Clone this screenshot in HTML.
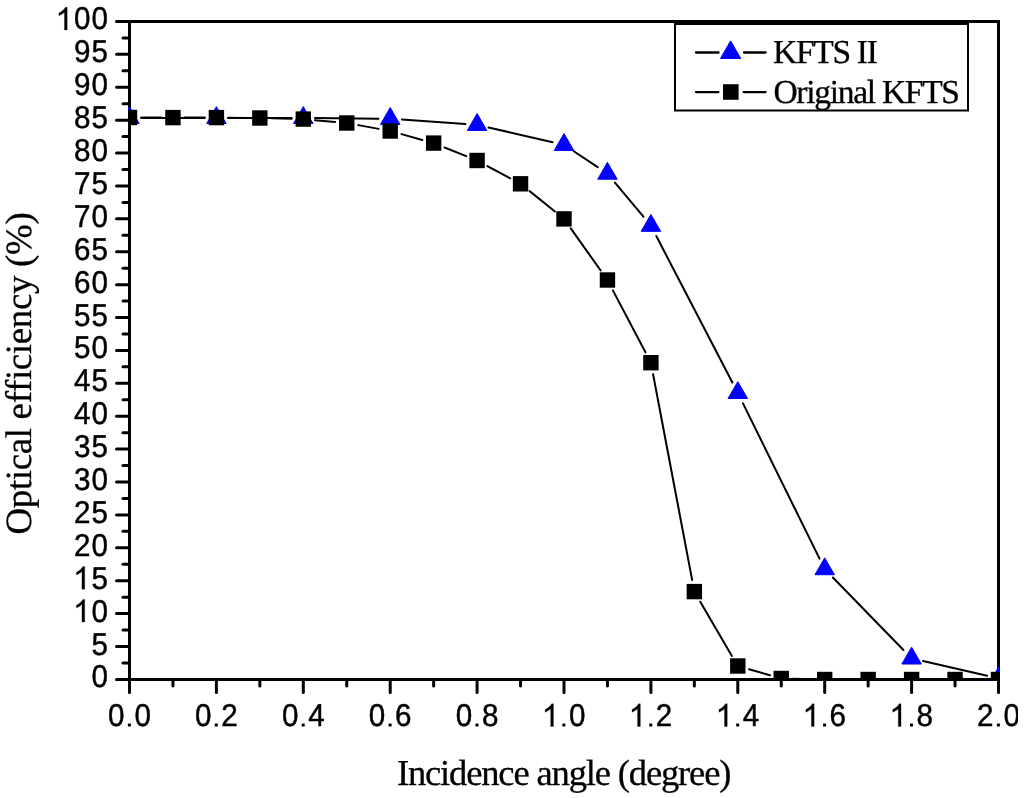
<!DOCTYPE html>
<html><head><meta charset="utf-8"><style>
html,body{margin:0;padding:0;background:#fff;width:1024px;height:798px;overflow:hidden}
svg{display:block;will-change:transform;text-rendering:geometricPrecision}
.sans{font-family:"Liberation Sans",sans-serif;font-size:31.5px;fill:#000;stroke:#000;stroke-width:0.45px}
.serif{font-family:"Liberation Serif",serif;fill:#000;stroke:#000;stroke-width:0.3px}
</style></head><body>
<svg width="1024" height="798" viewBox="0 0 1024 798">
<rect width="1024" height="798" fill="#fff"/>
<g>
<defs><clipPath id="lc"><rect x="0" y="0" width="1018" height="798"/></clipPath><clipPath id="pc"><rect x="128" y="20" width="872" height="661"/></clipPath></defs>
<g stroke="#000" stroke-width="3" stroke-linecap="round" fill="none">
<line x1="116.50" y1="679.40" x2="129.50" y2="679.40"/>
<line x1="123.00" y1="662.95" x2="129.50" y2="662.95"/>
<line x1="116.50" y1="646.50" x2="129.50" y2="646.50"/>
<line x1="123.00" y1="630.05" x2="129.50" y2="630.05"/>
<line x1="116.50" y1="613.61" x2="129.50" y2="613.61"/>
<line x1="123.00" y1="597.16" x2="129.50" y2="597.16"/>
<line x1="116.50" y1="580.71" x2="129.50" y2="580.71"/>
<line x1="123.00" y1="564.26" x2="129.50" y2="564.26"/>
<line x1="116.50" y1="547.81" x2="129.50" y2="547.81"/>
<line x1="123.00" y1="531.36" x2="129.50" y2="531.36"/>
<line x1="116.50" y1="514.91" x2="129.50" y2="514.91"/>
<line x1="123.00" y1="498.46" x2="129.50" y2="498.46"/>
<line x1="116.50" y1="482.01" x2="129.50" y2="482.01"/>
<line x1="123.00" y1="465.57" x2="129.50" y2="465.57"/>
<line x1="116.50" y1="449.12" x2="129.50" y2="449.12"/>
<line x1="123.00" y1="432.67" x2="129.50" y2="432.67"/>
<line x1="116.50" y1="416.22" x2="129.50" y2="416.22"/>
<line x1="123.00" y1="399.77" x2="129.50" y2="399.77"/>
<line x1="116.50" y1="383.32" x2="129.50" y2="383.32"/>
<line x1="123.00" y1="366.87" x2="129.50" y2="366.87"/>
<line x1="116.50" y1="350.43" x2="129.50" y2="350.43"/>
<line x1="123.00" y1="333.98" x2="129.50" y2="333.98"/>
<line x1="116.50" y1="317.53" x2="129.50" y2="317.53"/>
<line x1="123.00" y1="301.08" x2="129.50" y2="301.08"/>
<line x1="116.50" y1="284.63" x2="129.50" y2="284.63"/>
<line x1="123.00" y1="268.18" x2="129.50" y2="268.18"/>
<line x1="116.50" y1="251.73" x2="129.50" y2="251.73"/>
<line x1="123.00" y1="235.28" x2="129.50" y2="235.28"/>
<line x1="116.50" y1="218.84" x2="129.50" y2="218.84"/>
<line x1="123.00" y1="202.39" x2="129.50" y2="202.39"/>
<line x1="116.50" y1="185.94" x2="129.50" y2="185.94"/>
<line x1="123.00" y1="169.49" x2="129.50" y2="169.49"/>
<line x1="116.50" y1="153.04" x2="129.50" y2="153.04"/>
<line x1="123.00" y1="136.59" x2="129.50" y2="136.59"/>
<line x1="116.50" y1="120.14" x2="129.50" y2="120.14"/>
<line x1="123.00" y1="103.69" x2="129.50" y2="103.69"/>
<line x1="116.50" y1="87.25" x2="129.50" y2="87.25"/>
<line x1="123.00" y1="70.80" x2="129.50" y2="70.80"/>
<line x1="116.50" y1="54.35" x2="129.50" y2="54.35"/>
<line x1="123.00" y1="37.90" x2="129.50" y2="37.90"/>
<line x1="116.50" y1="21.45" x2="129.50" y2="21.45"/>
<line x1="129.50" y1="679.40" x2="129.50" y2="692.40"/>
<line x1="172.95" y1="679.40" x2="172.95" y2="685.90"/>
<line x1="216.40" y1="679.40" x2="216.40" y2="692.40"/>
<line x1="259.85" y1="679.40" x2="259.85" y2="685.90"/>
<line x1="303.30" y1="679.40" x2="303.30" y2="692.40"/>
<line x1="346.75" y1="679.40" x2="346.75" y2="685.90"/>
<line x1="390.20" y1="679.40" x2="390.20" y2="692.40"/>
<line x1="433.65" y1="679.40" x2="433.65" y2="685.90"/>
<line x1="477.10" y1="679.40" x2="477.10" y2="692.40"/>
<line x1="520.55" y1="679.40" x2="520.55" y2="685.90"/>
<line x1="564.00" y1="679.40" x2="564.00" y2="692.40"/>
<line x1="607.45" y1="679.40" x2="607.45" y2="685.90"/>
<line x1="650.90" y1="679.40" x2="650.90" y2="692.40"/>
<line x1="694.35" y1="679.40" x2="694.35" y2="685.90"/>
<line x1="737.80" y1="679.40" x2="737.80" y2="692.40"/>
<line x1="781.25" y1="679.40" x2="781.25" y2="685.90"/>
<line x1="824.70" y1="679.40" x2="824.70" y2="692.40"/>
<line x1="868.15" y1="679.40" x2="868.15" y2="685.90"/>
<line x1="911.60" y1="679.40" x2="911.60" y2="692.40"/>
<line x1="955.05" y1="679.40" x2="955.05" y2="685.90"/>
<line x1="998.50" y1="679.40" x2="998.50" y2="692.40"/>
</g>
<g stroke="#000" stroke-width="3" fill="none" stroke-linecap="square">
<path d="M129.5 679.40V21.45H998.5V679.40H129.5Z"/>
</g>
<g clip-path="url(#pc)">
<g stroke="#000" stroke-width="2" fill="none" stroke-linecap="round">
<line x1="141.20" y1="117.90" x2="204.70" y2="117.90"/>
<line x1="228.10" y1="117.90" x2="291.60" y2="117.90"/>
<line x1="315.00" y1="118.02" x2="378.50" y2="118.68"/>
<line x1="401.87" y1="119.61" x2="465.43" y2="123.99"/>
<line x1="488.50" y1="127.42" x2="552.60" y2="142.18"/>
<line x1="573.75" y1="151.26" x2="597.70" y2="167.14"/>
<line x1="614.94" y1="182.59" x2="643.41" y2="216.71"/>
<line x1="656.30" y1="236.08" x2="732.40" y2="382.52"/>
<line x1="742.98" y1="403.39" x2="819.52" y2="558.61"/>
<line x1="832.86" y1="577.49" x2="903.44" y2="650.01"/>
<line x1="923.00" y1="661.02" x2="987.10" y2="675.78"/>
<line x1="141.20" y1="117.53" x2="161.25" y2="117.57"/>
<line x1="184.65" y1="117.60" x2="204.70" y2="117.60"/>
<line x1="228.10" y1="117.71" x2="248.15" y2="117.89"/>
<line x1="271.55" y1="118.30" x2="291.60" y2="118.80"/>
<line x1="314.95" y1="120.15" x2="335.10" y2="121.95"/>
<line x1="358.26" y1="125.12" x2="378.69" y2="128.88"/>
<line x1="401.47" y1="134.14" x2="422.38" y2="139.96"/>
<line x1="444.51" y1="147.45" x2="466.24" y2="156.15"/>
<line x1="487.41" y1="166.03" x2="510.24" y2="178.27"/>
<line x1="529.65" y1="191.15" x2="554.90" y2="211.55"/>
<line x1="570.78" y1="228.43" x2="600.67" y2="270.47"/>
<line x1="612.89" y1="290.36" x2="645.46" y2="352.34"/>
<line x1="653.08" y1="374.19" x2="692.17" y2="580.11"/>
<line x1="700.25" y1="601.70" x2="731.90" y2="655.90"/>
<line x1="749.04" y1="669.23" x2="770.01" y2="675.27"/>
<line x1="792.95" y1="678.77" x2="813.00" y2="679.23"/>
<line x1="836.40" y1="679.50" x2="856.45" y2="679.50"/>
<line x1="879.85" y1="679.50" x2="899.90" y2="679.50"/>
<line x1="923.30" y1="679.50" x2="943.35" y2="679.50"/>
<line x1="966.75" y1="679.50" x2="986.80" y2="679.50"/>
</g>
<g fill="#0000ff" stroke="#0000ff" stroke-width="1" stroke-linejoin="round">
<path d="M129.50 106.64L139.25 123.53L119.75 123.53Z"/>
<path d="M216.40 106.64L226.15 123.53L206.65 123.53Z"/>
<path d="M303.30 106.64L313.05 123.53L293.55 123.53Z"/>
<path d="M390.20 107.54L399.95 124.43L380.45 124.43Z"/>
<path d="M477.10 113.54L486.85 130.43L467.35 130.43Z"/>
<path d="M564.00 133.54L573.75 150.43L554.25 150.43Z"/>
<path d="M607.45 162.34L617.20 179.23L597.70 179.23Z"/>
<path d="M650.90 214.44L660.65 231.33L641.15 231.33Z"/>
<path d="M737.80 381.64L747.55 398.53L728.05 398.53Z"/>
<path d="M824.70 557.84L834.45 574.73L814.95 574.73Z"/>
<path d="M911.60 647.14L921.35 664.03L901.85 664.03Z"/>
<path d="M998.50 667.14L1008.25 684.03L988.75 684.03Z"/>
</g>
<g fill="#000">
<rect x="121.80" y="109.80" width="15.4" height="15.4"/>
<rect x="165.25" y="109.90" width="15.4" height="15.4"/>
<rect x="208.70" y="109.90" width="15.4" height="15.4"/>
<rect x="252.15" y="110.30" width="15.4" height="15.4"/>
<rect x="295.60" y="111.40" width="15.4" height="15.4"/>
<rect x="339.05" y="115.30" width="15.4" height="15.4"/>
<rect x="382.50" y="123.30" width="15.4" height="15.4"/>
<rect x="425.95" y="135.40" width="15.4" height="15.4"/>
<rect x="469.40" y="152.80" width="15.4" height="15.4"/>
<rect x="512.85" y="176.10" width="15.4" height="15.4"/>
<rect x="556.30" y="211.20" width="15.4" height="15.4"/>
<rect x="599.75" y="272.30" width="15.4" height="15.4"/>
<rect x="643.20" y="355.00" width="15.4" height="15.4"/>
<rect x="686.65" y="583.90" width="15.4" height="15.4"/>
<rect x="730.10" y="658.30" width="15.4" height="15.4"/>
<rect x="773.55" y="670.80" width="15.4" height="15.4"/>
<rect x="817.00" y="671.80" width="15.4" height="15.4"/>
<rect x="860.45" y="671.80" width="15.4" height="15.4"/>
<rect x="903.90" y="671.80" width="15.4" height="15.4"/>
<rect x="947.35" y="671.80" width="15.4" height="15.4"/>
<rect x="990.80" y="671.80" width="15.4" height="15.4"/>
</g>
</g>
<g class="sans">
<text text-anchor="middle" transform="translate(99.64,687.40) scale(0.94,1)">0</text>
<text text-anchor="middle" transform="translate(99.64,654.50) scale(0.94,1)">5</text>
<path transform="translate(72.97,622.11) scale(0.015381,-0.015381)" stroke-width="16.3" d="M763 0L583 0L583 1147Q518 1085 412 1023Q306 961 223 930L223 1104Q373 1175 486 1276Q599 1377 646 1472L763 1472Z"/><text text-anchor="middle" transform="translate(99.64,621.61) scale(0.94,1)">0</text>
<path transform="translate(72.97,589.21) scale(0.015381,-0.015381)" stroke-width="16.3" d="M763 0L583 0L583 1147Q518 1085 412 1023Q306 961 223 930L223 1104Q373 1175 486 1276Q599 1377 646 1472L763 1472Z"/><text text-anchor="middle" transform="translate(99.64,588.71) scale(0.94,1)">5</text>
<text text-anchor="middle" transform="translate(82.13,555.81) scale(0.94,1)">2</text><text text-anchor="middle" transform="translate(99.64,555.81) scale(0.94,1)">0</text>
<text text-anchor="middle" transform="translate(82.13,522.91) scale(0.94,1)">2</text><text text-anchor="middle" transform="translate(99.64,522.91) scale(0.94,1)">5</text>
<text text-anchor="middle" transform="translate(82.13,490.01) scale(0.94,1)">3</text><text text-anchor="middle" transform="translate(99.64,490.01) scale(0.94,1)">0</text>
<text text-anchor="middle" transform="translate(82.13,457.12) scale(0.94,1)">3</text><text text-anchor="middle" transform="translate(99.64,457.12) scale(0.94,1)">5</text>
<text text-anchor="middle" transform="translate(82.13,424.22) scale(0.94,1)">4</text><text text-anchor="middle" transform="translate(99.64,424.22) scale(0.94,1)">0</text>
<text text-anchor="middle" transform="translate(82.13,391.32) scale(0.94,1)">4</text><text text-anchor="middle" transform="translate(99.64,391.32) scale(0.94,1)">5</text>
<text text-anchor="middle" transform="translate(82.13,358.43) scale(0.94,1)">5</text><text text-anchor="middle" transform="translate(99.64,358.43) scale(0.94,1)">0</text>
<text text-anchor="middle" transform="translate(82.13,325.53) scale(0.94,1)">5</text><text text-anchor="middle" transform="translate(99.64,325.53) scale(0.94,1)">5</text>
<text text-anchor="middle" transform="translate(82.13,292.63) scale(0.94,1)">6</text><text text-anchor="middle" transform="translate(99.64,292.63) scale(0.94,1)">0</text>
<text text-anchor="middle" transform="translate(82.13,259.73) scale(0.94,1)">6</text><text text-anchor="middle" transform="translate(99.64,259.73) scale(0.94,1)">5</text>
<text text-anchor="middle" transform="translate(82.13,226.84) scale(0.94,1)">7</text><text text-anchor="middle" transform="translate(99.64,226.84) scale(0.94,1)">0</text>
<text text-anchor="middle" transform="translate(82.13,193.94) scale(0.94,1)">7</text><text text-anchor="middle" transform="translate(99.64,193.94) scale(0.94,1)">5</text>
<text text-anchor="middle" transform="translate(82.13,161.04) scale(0.94,1)">8</text><text text-anchor="middle" transform="translate(99.64,161.04) scale(0.94,1)">0</text>
<text text-anchor="middle" transform="translate(82.13,128.14) scale(0.94,1)">8</text><text text-anchor="middle" transform="translate(99.64,128.14) scale(0.94,1)">5</text>
<text text-anchor="middle" transform="translate(82.13,95.25) scale(0.94,1)">9</text><text text-anchor="middle" transform="translate(99.64,95.25) scale(0.94,1)">0</text>
<text text-anchor="middle" transform="translate(82.13,62.35) scale(0.94,1)">9</text><text text-anchor="middle" transform="translate(99.64,62.35) scale(0.94,1)">5</text>
<path transform="translate(55.46,29.95) scale(0.015381,-0.015381)" stroke-width="16.3" d="M763 0L583 0L583 1147Q518 1085 412 1023Q306 961 223 930L223 1104Q373 1175 486 1276Q599 1377 646 1472L763 1472Z"/><text text-anchor="middle" transform="translate(82.13,29.45) scale(0.94,1)">0</text><text text-anchor="middle" transform="translate(99.64,29.45) scale(0.94,1)">0</text>
</g>
<g class="sans" clip-path="url(#lc)">
<text text-anchor="middle" transform="translate(116.36,726.00) scale(0.94,1)">0</text><rect x="127.88" y="723.55" width="3" height="2.95" stroke="none"/><text text-anchor="middle" transform="translate(142.64,726.00) scale(0.94,1)">0</text>
<text text-anchor="middle" transform="translate(203.26,726.00) scale(0.94,1)">0</text><rect x="214.78" y="723.55" width="3" height="2.95" stroke="none"/><text text-anchor="middle" transform="translate(229.54,726.00) scale(0.94,1)">2</text>
<text text-anchor="middle" transform="translate(290.16,726.00) scale(0.94,1)">0</text><rect x="301.68" y="723.55" width="3" height="2.95" stroke="none"/><text text-anchor="middle" transform="translate(316.44,726.00) scale(0.94,1)">4</text>
<text text-anchor="middle" transform="translate(377.06,726.00) scale(0.94,1)">0</text><rect x="388.58" y="723.55" width="3" height="2.95" stroke="none"/><text text-anchor="middle" transform="translate(403.34,726.00) scale(0.94,1)">6</text>
<text text-anchor="middle" transform="translate(463.96,726.00) scale(0.94,1)">0</text><rect x="475.48" y="723.55" width="3" height="2.95" stroke="none"/><text text-anchor="middle" transform="translate(490.24,726.00) scale(0.94,1)">8</text>
<path transform="translate(541.71,726.50) scale(0.015381,-0.015381)" stroke-width="16.3" d="M763 0L583 0L583 1147Q518 1085 412 1023Q306 961 223 930L223 1104Q373 1175 486 1276Q599 1377 646 1472L763 1472Z"/><rect x="562.38" y="723.55" width="3" height="2.95" stroke="none"/><text text-anchor="middle" transform="translate(577.14,726.00) scale(0.94,1)">0</text>
<path transform="translate(628.61,726.50) scale(0.015381,-0.015381)" stroke-width="16.3" d="M763 0L583 0L583 1147Q518 1085 412 1023Q306 961 223 930L223 1104Q373 1175 486 1276Q599 1377 646 1472L763 1472Z"/><rect x="649.28" y="723.55" width="3" height="2.95" stroke="none"/><text text-anchor="middle" transform="translate(664.04,726.00) scale(0.94,1)">2</text>
<path transform="translate(715.51,726.50) scale(0.015381,-0.015381)" stroke-width="16.3" d="M763 0L583 0L583 1147Q518 1085 412 1023Q306 961 223 930L223 1104Q373 1175 486 1276Q599 1377 646 1472L763 1472Z"/><rect x="736.18" y="723.55" width="3" height="2.95" stroke="none"/><text text-anchor="middle" transform="translate(750.94,726.00) scale(0.94,1)">4</text>
<path transform="translate(802.41,726.50) scale(0.015381,-0.015381)" stroke-width="16.3" d="M763 0L583 0L583 1147Q518 1085 412 1023Q306 961 223 930L223 1104Q373 1175 486 1276Q599 1377 646 1472L763 1472Z"/><rect x="823.08" y="723.55" width="3" height="2.95" stroke="none"/><text text-anchor="middle" transform="translate(837.84,726.00) scale(0.94,1)">6</text>
<path transform="translate(889.31,726.50) scale(0.015381,-0.015381)" stroke-width="16.3" d="M763 0L583 0L583 1147Q518 1085 412 1023Q306 961 223 930L223 1104Q373 1175 486 1276Q599 1377 646 1472L763 1472Z"/><rect x="909.98" y="723.55" width="3" height="2.95" stroke="none"/><text text-anchor="middle" transform="translate(924.74,726.00) scale(0.94,1)">8</text>
<text text-anchor="middle" transform="translate(985.36,726.00) scale(0.94,1)">2</text><rect x="996.88" y="723.55" width="3" height="2.95" stroke="none"/><text text-anchor="middle" transform="translate(1011.64,726.00) scale(0.94,1)">0</text>
</g>
<text class="serif" x="396.9" y="785" font-size="36.5" letter-spacing="-1.14">Incidence angle (degree)</text>
<text class="serif" transform="translate(31.4,534.6) rotate(-90)" font-size="37" letter-spacing="-0.37">Optical efficiency (%)</text>
<rect x="675" y="24" width="293" height="86.5" fill="#fff" stroke="#000" stroke-width="2"/>
<g stroke="#000" stroke-width="2.3" stroke-linecap="round">
<line x1="696" y1="52.5" x2="718.5" y2="52.5"/><line x1="744" y1="52.5" x2="765.6" y2="52.5"/>
<line x1="696" y1="92.1" x2="718.4" y2="92.1"/><line x1="743.6" y1="92.1" x2="765.6" y2="92.1"/>
</g>
<path fill="#0000ff" stroke="#0000ff" stroke-width="1" stroke-linejoin="round" d="M730.6 40.87L740.75 58.47L720.45 58.47Z"/>
<rect x="723" y="84.2" width="15.6" height="15.6" fill="#000"/>
<text class="serif" x="773" y="63" font-size="33.5" letter-spacing="-1.3">KFTS II</text>
<text class="serif" x="773.4" y="102.7" font-size="33.5" letter-spacing="-1.28">Original KFTS</text>
</g>
</svg>
</body></html>
